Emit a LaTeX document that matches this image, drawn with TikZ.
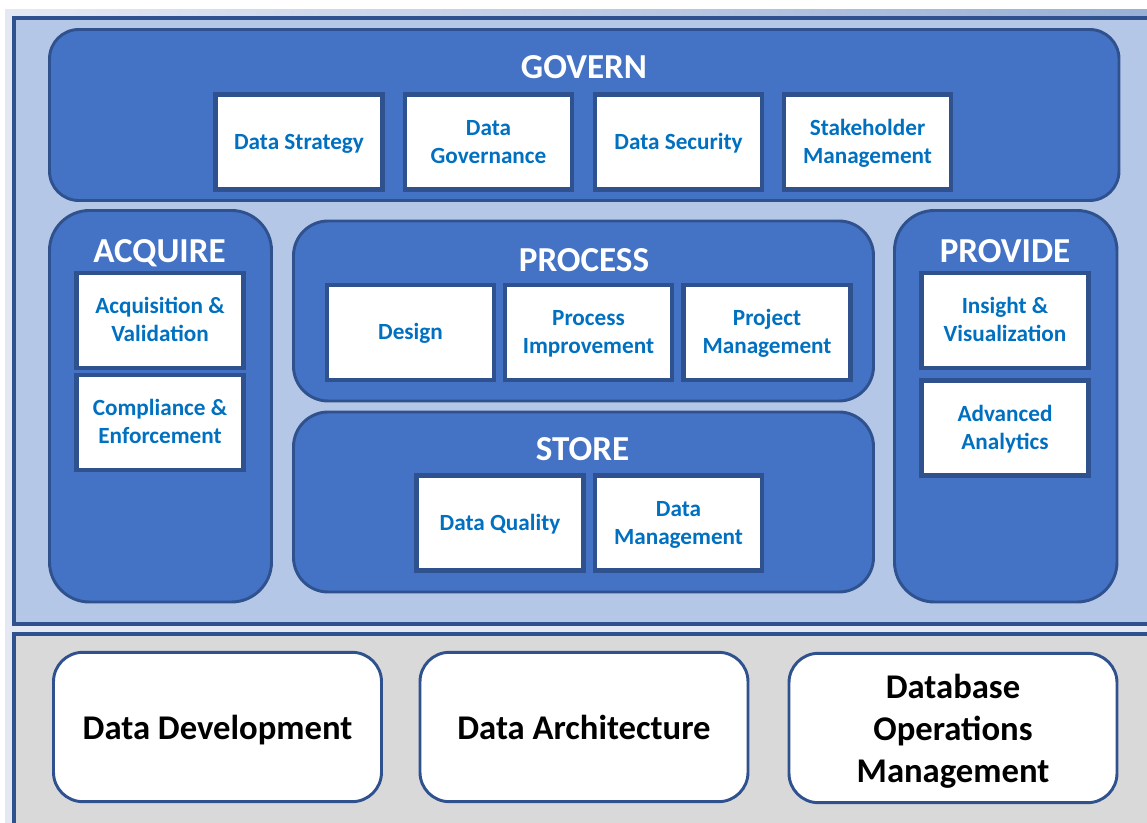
\documentclass[tikz,border=0pt]{standalone}
\usepackage{fontspec}
\setmainfont{Carlito}
\usepackage{tikz}
\definecolor{paneblue}{HTML}{B4C7E7}
\definecolor{areablue}{HTML}{4472C4}
\definecolor{edgeblue}{HTML}{2F528F}
\definecolor{textblue}{HTML}{0070C0}
\definecolor{panegray}{HTML}{D9D9D9}
\definecolor{backlav}{HTML}{E4E8F3}

\begin{document}
\begin{tikzpicture}[x=0.75pt, y=-0.75pt,
    area/.style={draw=edgeblue, fill=areablue, line width=2.2pt},
    task/.style={draw=edgeblue, fill=white, line width=3.3pt, inner sep=0pt,
        minimum width=125.5pt, minimum height=71pt, text width=118pt, align=flush center,
        text=textblue, font=\bfseries\fontsize{17.4}{21}\selectfont,
        execute at begin node={\rule{0pt}{15.3pt}},
        execute at end node={\rule[-4.1pt]{0pt}{4.1pt}}},
    title/.style={text=white, text depth=0pt, font=\bfseries\fontsize{26.3}{30}\selectfont},
    base/.style={draw=edgeblue, fill=white, line width=2.2pt, rounded corners=22pt,
        inner sep=0pt, minimum width=246pt, minimum height=112pt, text width=238pt,
        align=flush center, font=\bfseries\fontsize{26}{31.5}\selectfont,
        execute at begin node={\rule{0pt}{25pt}},
        execute at end node={\rule[-5.6pt]{0pt}{5.6pt}}}]
    \useasboundingbox (0,0) rectangle (1147,823);
    % background and the two panels
    \fill[backlav] (5,10) rectangle (1147,823);
    \shade[left color=backlav, right color=paneblue!80!edgeblue] (5,10) rectangle (1147,16);
    \draw[draw=edgeblue, fill=paneblue, line width=3pt] (13.5,18) rectangle (1170,624);
    \draw[draw=edgeblue, fill=panegray, line width=3pt] (13.5,634) rectangle (1170,850);

    % areas
    \draw[area, rounded corners=22pt] (49.5,29.5) rectangle (1119,200.5);
    \draw[area, rounded corners=30pt] (49.5,210.5) rectangle (271.5,602);
    \draw[area, rounded corners=26pt] (293.5,221) rectangle (873.5,401);
    \draw[area, rounded corners=26pt] (293.5,412) rectangle (873.5,592);
    \draw[area, rounded corners=30pt] (894.5,210.5) rectangle (1117,602);

    \node[title] (govern) at (584,67) {GOVERN};
    \node[title] (acquire) at (159.5,251) {ACQUIRE};
    \node[title] (process) at (584,260) {PROCESS};
    \node[title] (store) at (582.5,449) {STORE};
    \node[title] (provide) at (1005,251) {PROVIDE};

    % govern tasks
    \foreach \x/\name/\txt in {299/strategy/Data Strategy, 488.5/governance/Data\\Governance,
        678.5/security/Data Security, 867.5/stakeholder/Stakeholder\\Management} {
        \node[task] (\name) at (\x,142) {\txt};
    }

    % acquire and provide tasks
    \node[task] (acquisition) at (160,320.5) {Acquisition \&\\Validation};
    \node[task] (compliance) at (160,422.5) {Compliance \&\\Enforcement};
    \node[task] (insight) at (1005,320.5) {Insight \&\\Visualization};
    \node[task] (analytics) at (1005,428) {Advanced\\Analytics};

    % process and store tasks
    \node[task] (design) at (410.5,332.5) {Design};
    \node[task] (improvement) at (588.5,332.5) {Process\\Improvement};
    \node[task] (project) at (767,332.5) {Project\\Management};
    \node[task] (quality) at (500,523) {Data Quality};
    \node[task] (datamgmt) at (678.5,523) {Data\\Management};

    % base functions
    \node[base] (development) at (217.5,727) {Data Development};
    \node[base] (architecture) at (584,727) {Data Architecture};
    \node[base] (operations) at (953,728) {Database\\Operations\\Management};
\end{tikzpicture}
\end{document}
